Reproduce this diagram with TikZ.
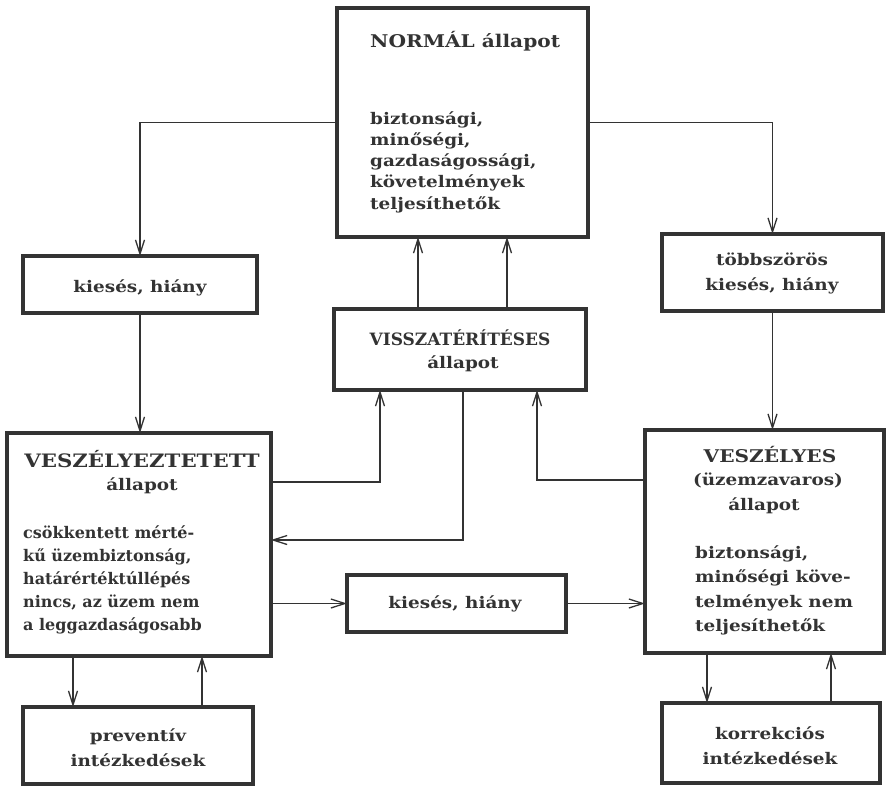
\documentclass[tikz,border=0pt]{standalone}
\usepackage{fontspec}
\setmainfont{DejaVu Serif}[FakeStretch=1.15]
\newfontfamily\plainfont{DejaVu Serif}
\usetikzlibrary{arrows.meta}
\definecolor{ink}{HTML}{333333}
\tikzset{
  box/.style={draw=ink, line width=3.2pt, rectangle, inner sep=0pt, outer sep=0pt, anchor=north west},
  conn/.style={draw=ink, line width=1.5pt},
  arr/.style={conn, -{Straight Barb[length=14pt,width=9pt,line width=1.3pt]}},
  txt/.style={text=ink, inner sep=0pt, font=\bfseries\fontsize{16}{21.5}\selectfont},
  head/.style={txt, font=\bfseries\fontsize{17.5}{21}\selectfont},
}
\begin{document}
\begin{tikzpicture}[x=1pt,y=-1pt]
\useasboundingbox (0,0) rectangle (888,788);
% boxes
\node[box, minimum width=251pt, minimum height=229pt] (normal) at (337,8) {};
\node[box, minimum width=234pt, minimum height=57pt] (kl) at (23,256) {};
\node[box, minimum width=221pt, minimum height=77pt] (tk) at (662,234) {};
\node[box, minimum width=252pt, minimum height=81pt] (vr) at (334,309) {};
\node[box, minimum width=264pt, minimum height=223pt] (vt) at (7,433) {};
\node[box, minimum width=239pt, minimum height=223pt] (vs) at (645,430) {};
\node[box, minimum width=219pt, minimum height=57pt] (km) at (347,575) {};
\node[box, minimum width=230pt, minimum height=77pt] (pv) at (23,707) {};
\node[box, minimum width=218pt, minimum height=80pt] (kk) at (662,703) {};
% texts
\node[head, anchor=base west] (tnormal) at (370,47) {NORMÁL állapot};
\node[txt, anchor=north west, align=left, font=\bfseries\fontsize{16}{21.3}\selectfont] (tnormalb) at (370,111) {biztonsági,\\minőségi,\\gazdaságossági,\\követelmények\\teljesíthetők};
\node[txt, anchor=base] (tkl) at (140,292) {kiesés, hiány};
\node[txt, anchor=north, align=center, font=\bfseries\fontsize{16}{24.5}\selectfont] (ttk) at (772,253) {többszörös\\kiesés, hiány};
\node[head, anchor=base, font=\bfseries\plainfont\fontsize{17}{21}\selectfont] (tvr1) at (460,345) {VISSZATÉRÍTÉSES};
\node[txt, anchor=base] (tvr2) at (463,368) {állapot};
\node[head, anchor=base, font=\bfseries\fontsize{18.5}{21}\selectfont] (tvt1) at (142,467) {VESZÉLYEZTETETT};
\node[txt, anchor=base] (tvt2) at (142,490) {állapot};
\node[txt, anchor=north west, align=left, font=\bfseries\plainfont\fontsize{16}{23}\selectfont] (tvtb) at (23,525) {csökkentett mérté-\\kű üzembiztonság,\\határértéktúllépés\\nincs, az üzem nem\\a leggazdaságosabb};
\node[head, anchor=base] (tvs1) at (770,462) {VESZÉLYES};
\node[txt, anchor=base] (tvs2) at (768,485) {(üzemzavaros)};
\node[txt, anchor=base] (tvs3) at (764,510) {állapot};
\node[txt, anchor=north west, align=left, font=\bfseries\fontsize{16}{24.5}\selectfont] (tvsb) at (695,545) {biztonsági,\\minőségi köve-\\telmények nem\\teljesíthetők};
\node[txt, anchor=base] (tkm) at (455,608) {kiesés, hiány};
\node[txt, anchor=north, align=center, font=\bfseries\fontsize{16}{25}\selectfont] (tpv) at (138,728) {preventív\\intézkedések};
\node[txt, anchor=north, align=center, font=\bfseries\fontsize{16}{25}\selectfont] (tkk) at (770,726) {korrekciós\\intézkedések};
% connectors
\draw[arr] (normal.west) -| (kl.north);
\draw[arr] (normal.east) -| (tk.north);
\draw[arr] (kl.south) -- (kl.south |- vt.north);
\draw[arr] (tk.south) -- (tk.south |- vs.north);
\draw[arr] ([xshift=-42pt]vr.north) -- ([xshift=-42pt]vr.north |- normal.south);
\draw[arr] ([xshift=47pt]vr.north) -- ([xshift=47pt]vr.north |- normal.south);
\draw[arr] (vt.east |- 0,482) -| ([xshift=-80pt]vr.south);
\draw[arr] ([xshift=3pt]vr.south) |- (vt.east |- 0,540);
\draw[arr] (vs.west |- 0,480) -| ([xshift=77pt]vr.south);
\draw[arr] (vt.east |- km.west) -- (km.west);
\draw[arr] (km.east) -- (vs.west |- km.east);
\draw[arr] ([xshift=-65pt]pv.north |- vt.south) -- ([xshift=-65pt]pv.north);
\draw[arr] ([xshift=64pt]pv.north) -- ([xshift=64pt]pv.north |- vt.south);
\draw[arr] ([xshift=-64pt]kk.north |- vs.south) -- ([xshift=-64pt]kk.north);
\draw[arr] ([xshift=60pt]kk.north) -- ([xshift=60pt]kk.north |- vs.south);
\end{tikzpicture}
\end{document}
